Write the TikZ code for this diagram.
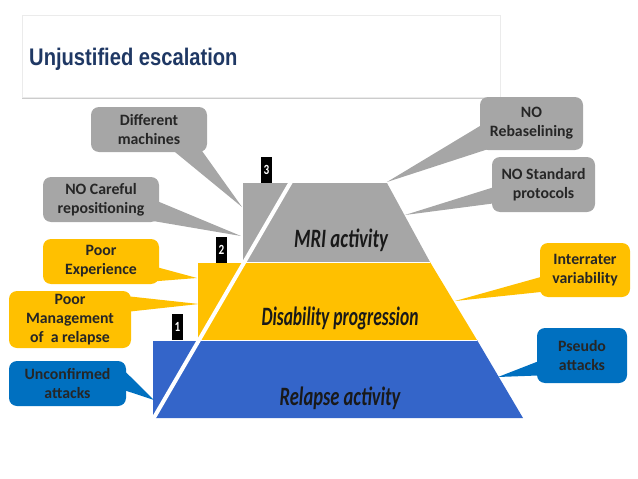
\documentclass[tikz,border=0pt]{standalone}
\usepackage{fontspec}
\usepackage{graphicx}
\setmainfont{Carlito}
\newfontfamily\titlefont{Liberation Sans}
\usetikzlibrary{calc,shadows}
\definecolor{titleblue}{RGB}{31,56,100}
\definecolor{mrigray}{RGB}{166,166,166}
\definecolor{disyellow}{RGB}{255,192,0}
\definecolor{relblue}{RGB}{52,101,201}
\definecolor{boxblue}{RGB}{0,112,192}
\newcommand{\squeezed}[2]{\scalebox{#1}[1]{#2}}
\tikzset{
	callout/.style={rounded corners=8pt, inner sep=2pt, align=center, text=black!85,
		font=\fontsize{15.8}{19}\selectfont\bfseries},
	layerlabel/.style={text=black!90, font=\fontsize{26.5}{30}\selectfont\bfseries\itshape},
	tag/.style={fill=black, text=white, inner sep=0pt, minimum width=11pt, minimum height=26pt,
		font=\fontsize{14}{14}\selectfont\bfseries}
}
\begin{document}
\begin{tikzpicture}[x=1pt, y=-1pt]
	\useasboundingbox (0,0) rectangle (638,479);
	% Titel
	\fill[white, draw=black!8, drop shadow={shadow xshift=0pt, shadow yshift=-2pt, opacity=0.4}] (22,15) rectangle (500,97);
	\node[anchor=base west, inner sep=0pt, text=titleblue, font=\titlefont\fontsize{24}{24}\selectfont\bfseries] (title) at (29,65) {\squeezed{0.84}{Unjustified escalation}};
	% Schichten
	\fill[mrigray] (243,183) -- (387,183) -- (430,262) -- (243,262) -- cycle;
	\fill[disyellow] (198,262) -- (430,262) -- (477,340) -- (198,340) -- cycle;
	\fill[relblue] (153,340) -- (477,340) -- (523,418) -- (153,418) -- cycle;
	\draw[white, line width=0.6pt] (198,262) -- (430,262);
	\draw[white, line width=0.6pt] (153,340) -- (477,340);
	\draw[white, line width=4pt] (152,421) -- (292,180);
	\node[layerlabel] (mri) at (341,240) {\squeezed{0.71}{MRI activity}};
	\node[layerlabel] (dis) at (340,318) {\squeezed{0.66}{Disability progression}};
	\node[layerlabel] (rel) at (340,398) {\squeezed{0.7}{Relapse activity}};
	% Nummern
	\node[tag] (t1) at (177.5,326.5) {\squeezed{0.8}{1}};
	\node[tag] (t2) at (221.5,249.5) {\squeezed{0.8}{2}};
	\node[tag] (t3) at (266.5,170) {\squeezed{0.8}{3}};
	% Sprechblasen links
	\node[callout, fill=mrigray, minimum width=116pt, minimum height=45pt] (diff) at (149,129.5) {Different\\machines};
	\node[callout, fill=mrigray, minimum width=116pt, minimum height=45pt] (care) at (101,199.5) {NO Careful\\repositioning};
	\node[callout, fill=disyellow, minimum width=116pt, minimum height=45pt] (exper) at (101,261.5) {Poor\\Experience};
	\node[callout, fill=disyellow, minimum width=122pt, minimum height=57pt] (manag) at (70,319.5) {Poor\\Management\\of~ a relapse};
	\node[callout, fill=boxblue, minimum width=117pt, minimum height=45pt] (unconf) at (67.5,383.5) {Unconfirmed\\attacks};
	% Sprechblasen rechts
	\node[callout, fill=mrigray, minimum width=103pt, minimum height=53pt] (rebase) at (531.5,123.5) {NO\\Rebaselining};
	\node[callout, fill=mrigray, minimum width=103pt, minimum height=55pt] (stand) at (543.5,184.5) {NO Standard\\protocols};
	\node[callout, fill=disyellow, minimum width=90pt, minimum height=54pt] (inter) at (585,270) {Interrater\\variability};
	\node[callout, fill=boxblue, minimum width=90pt, minimum height=55pt] (pseudo) at (582,355.5) {Pseudo\\attacks};
	% Spitzen
	\coordinate (diff tip) at (242,207);
	\coordinate (care tip) at (241,236);
	\coordinate (exper tip) at (197,278);
	\coordinate (manag tip) at (199,304);
	\coordinate (unconf tip) at (154,400);
	\coordinate (rebase tip) at (387,182);
	\coordinate (stand tip) at (405,215);
	\coordinate (inter tip) at (455,301);
	\coordinate (pseudo tip) at (498,377);
	\fill[mrigray] ($(diff.south)+(25,-1)$) -- (diff tip) -- ($(diff.south east)+(-5,-1)$) -- cycle;
	\fill[mrigray] ($(care.east)+(-1,2)$) -- (care tip) -- ($(care.south east)+(-5,-1)$) -- cycle;
	\fill[disyellow] ($(exper.east)+(-1,6)$) -- (exper tip) -- ($(exper.south east)+(-3,-3)$) -- cycle;
	\fill[disyellow] ($(manag.east)+(-1,-23)$) -- (manag tip) -- ($(manag.east)+(-1,-8)$) -- cycle;
	\fill[boxblue] ($(unconf.east)+(-1,-12)$) -- (unconf tip) -- ($(unconf.east)+(-1,7)$) -- cycle;
	\fill[mrigray] ($(rebase.west)+(1,2)$) -- (rebase tip) -- ($(rebase.south west)+(8,-1)$) -- cycle;
	\fill[mrigray] ($(stand.west)+(1,3)$) -- (stand tip) -- ($(stand.west)+(1,19)$) -- cycle;
	\fill[disyellow] ($(inter.west)+(1,7)$) -- (inter tip) -- ($(inter.west)+(1,22)$) -- cycle;
	\fill[boxblue] ($(pseudo.west)+(1,6)$) -- (pseudo tip) -- ($(pseudo.west)+(1,20)$) -- cycle;
\end{tikzpicture}
\end{document}
